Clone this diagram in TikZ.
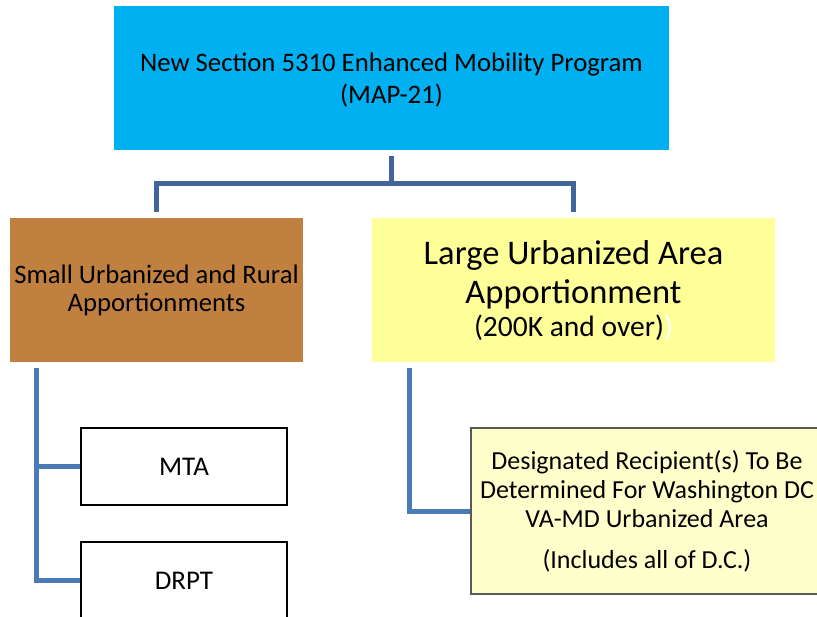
\documentclass[tikz,border=0pt]{standalone}
\usepackage{fontspec}
\setmainfont{Carlito}
\definecolor{topblue}{HTML}{00B0F0}
\definecolor{brown}{HTML}{C0803F}
\definecolor{yel}{HTML}{FFFF99}
\definecolor{paleyel}{HTML}{FFFFCC}
\definecolor{connA}{HTML}{41659A}
\definecolor{connB}{HTML}{4A7BB7}
\definecolor{desborder}{HTML}{595959}
\tikzset{
  box/.style={rectangle, inner sep=0pt, align=center, text=black},
  conntop/.style={draw=connA, line width=5pt, line join=miter},
  connlow/.style={draw=connB, line width=5pt, line join=miter},
}
\begin{document}
\begin{tikzpicture}[x=1pt,y=-1pt]
\useasboundingbox (0,0) rectangle (817,617);
\node[box, fill=topblue, minimum width=555pt, minimum height=144pt,
      font=\fontsize{26.7}{32}\selectfont] (top) at (391.5,78)
  {\raisebox{-3.5pt}[\height][\depth]{\begin{tabular}{@{}c@{}}New Section 5310 Enhanced Mobility Program\\(MAP-21)\end{tabular}}};
\node[box, fill=brown, minimum width=293pt, minimum height=144pt,
      font=\fontsize{26.7}{28}\selectfont] (left) at (156.5,290)
  {\raisebox{-2pt}[\height][\depth]{\begin{tabular}{@{}c@{}}Small Urbanized and Rural\\Apportionments\end{tabular}}};
\node[box, fill=yel, minimum width=403pt, minimum height=144pt,
      font=\fontsize{34.5}{39}\selectfont] (right) at (573.5,290)
  {\raisebox{-3pt}[\height][\depth]{\begin{tabular}{@{}c@{}}Large Urbanized Area\\Apportionment\\[-6pt]{\fontsize{29.5}{34}\selectfont (200K and over)\textcolor{white}{)}}\end{tabular}}};
\node[box, fill=white, draw=black, line width=1.3pt, minimum width=206pt, minimum height=77pt,
      font=\fontsize{27}{30}\selectfont] (mta) at (184,466.5) {MTA};
\node[box, fill=white, draw=black, line width=1.3pt, minimum width=206pt, minimum height=77pt,
      font=\fontsize{27}{30}\selectfont] (drpt) at (184,580.5) {DRPT};
\node[box, fill=paleyel, draw=desborder, line width=1.2pt, minimum width=352pt, minimum height=166pt,
      font=\fontsize{26}{29}\selectfont] (des) at (647,511)
  {Designated Recipient(s) To Be\\Determined For Washington DC\\VA-MD Urbanized Area\\[12pt](Includes all of D.C.)};
% connectors
\draw[conntop] ([yshift=-6pt]top.south) -- ++(0,-27pt) coordinate (mid);
\draw[conntop] ([yshift=6pt]left.north) |- (mid) -| ([yshift=6pt]right.north);
\coordinate (lstart) at ([xshift=27pt,yshift=-6pt]left.south west);
\draw[connlow] (lstart) |- (drpt.west);
\draw[connlow] (mta.west) -- (mta.west -| lstart);
\coordinate (rstart) at ([xshift=38pt,yshift=-6pt]right.south west);
\draw[connlow] (rstart) |- (des.west);
\end{tikzpicture}
\end{document}
